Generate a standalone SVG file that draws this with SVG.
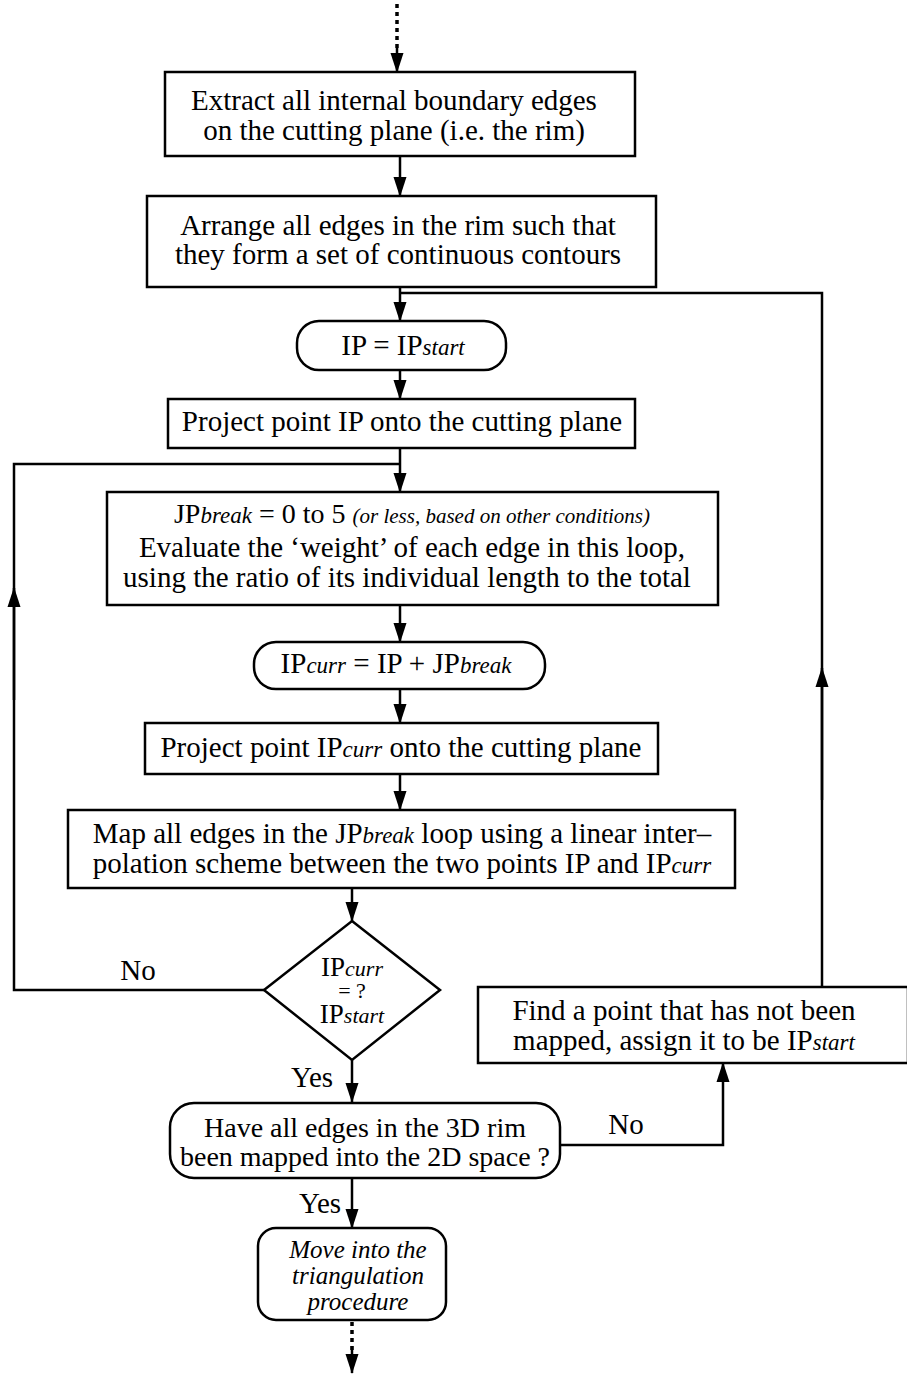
<svg xmlns="http://www.w3.org/2000/svg" width="907" height="1374" viewBox="0 0 907 1374">
<style>
.b{fill:#fff;stroke:#000;stroke-width:2.5}
.t{font-family:"Liberation Serif",serif;font-size:29px;fill:#000;text-anchor:middle}
.i{font-style:italic}
.s{font-size:23px}
.c{fill:none;stroke:#000;stroke-width:2.5}
.d{fill:none;stroke:#000;stroke-width:3.5;stroke-dasharray:4 4}
</style>
<defs>
<marker id="a" markerWidth="20" markerHeight="14" refX="19" refY="7" orient="auto" markerUnits="userSpaceOnUse" viewBox="0 0 20 14"><path d="M0,0.5 L20,7 L0,13.5 Z" fill="#000"/></marker>
</defs>
<g id="connectors">
<path class="d" d="M397,4 V50"/>
<path class="c" d="M397,48 V72" marker-end="url(#a)"/>
<path class="c" d="M400,156 V196" marker-end="url(#a)"/>
<path class="c" d="M400,287 V321" marker-end="url(#a)"/>
<path class="c" d="M400,370 V399" marker-end="url(#a)"/>
<path class="c" d="M400,448 V492" marker-end="url(#a)"/>
<path class="c" d="M400,605 V642" marker-end="url(#a)"/>
<path class="c" d="M400,689 V723" marker-end="url(#a)"/>
<path class="c" d="M400,774 V810" marker-end="url(#a)"/>
<path class="c" d="M352,888 V921" marker-end="url(#a)"/>
<path class="c" d="M264,990 H14 V464 H400"/>
<path class="c" d="M14,700 V588" marker-end="url(#a)"/>
<path class="c" d="M352,1060 V1102" marker-end="url(#a)"/>
<path class="c" d="M560,1145 H723 V1063" marker-end="url(#a)"/>
<path class="c" d="M822,987 V293 H400"/>
<path class="c" d="M822,800 V668" marker-end="url(#a)"/>
<path class="c" d="M352,1178 V1228" marker-end="url(#a)"/>
<path class="d" d="M352,1322 V1350"/>
<path class="c" d="M352,1346 V1373" marker-end="url(#a)"/>
<text class="t" x="138" y="980">No</text>
<text class="t" x="312" y="1087">Yes</text>
<text class="t" x="626" y="1134">No</text>
<text class="t" x="320" y="1213">Yes</text>
</g>
<g id="n1"><rect class="b" x="165" y="72" width="470" height="84"/>
<text class="t" x="394" y="110">Extract all internal boundary edges</text>
<text class="t" x="394" y="140">on the cutting plane  (i.e. the rim)</text></g>
<g id="n2"><rect class="b" x="147" y="196" width="509" height="91"/>
<text class="t" x="398" y="235">Arrange all edges in the rim such that</text>
<text class="t" x="398" y="264">they form a set of continuous contours</text></g>
<g id="n3"><rect class="b" x="297" y="321" width="209" height="49" rx="22"/>
<text class="t" x="403" y="355">IP = IP<tspan class="i s">start</tspan></text></g>
<g id="n4"><rect class="b" x="168" y="399" width="467" height="49"/>
<text class="t" x="402" y="431">Project point IP onto the cutting plane</text></g>
<g id="n5"><rect class="b" x="107" y="492" width="611" height="113"/>
<text class="t" x="412" y="523" style="font-size:28px">JP<tspan class="i s">break</tspan> = 0 to 5  <tspan class="i" style="font-size:21px">(or less, based on other conditions)</tspan></text>
<text class="t" x="412" y="557">Evaluate the ‘weight’ of each edge in this loop,</text>
<text class="t" x="407" y="587">using the ratio of its individual length to the total</text></g>
<g id="n6"><rect class="b" x="254" y="642" width="291" height="47" rx="22"/>
<text class="t" x="396" y="673">IP<tspan class="i s">curr</tspan> = IP + JP<tspan class="i s">break</tspan></text></g>
<g id="n7"><rect class="b" x="145" y="723" width="513" height="51"/>
<text class="t" x="401" y="757">Project point IP<tspan class="i s">curr</tspan> onto the cutting plane</text></g>
<g id="n8"><rect class="b" x="68" y="810" width="667" height="78"/>
<text class="t" x="402" y="843">Map all edges in the JP<tspan class="i s">break</tspan> loop using a linear inter–</text>
<text class="t" x="402" y="873">polation scheme between the two points IP and IP<tspan class="i s">curr</tspan></text></g>
<g id="n9"><polygon class="b" points="352,921 440,990 352,1060 264,990"/>
<text class="t" x="352" y="976" style="font-size:27px">IP<tspan class="i" style="font-size:22px">curr</tspan></text>
<text class="t" x="352" y="998" style="font-size:22px">= ?</text>
<text class="t" x="352" y="1023" style="font-size:27px">IP<tspan class="i" style="font-size:22px">start</tspan></text></g>
<g id="n10"><rect class="b" x="170" y="1103" width="390" height="75" rx="24"/>
<text class="t" x="365" y="1137" style="font-size:28px">Have all edges in the 3D rim</text>
<text class="t" x="365" y="1166" style="font-size:28px">been mapped into the 2D space ?</text></g>
<g id="n11"><rect class="b" x="478" y="987" width="430" height="76"/>
<text class="t" x="684" y="1020">Find a point that has not been</text>
<text class="t" x="684" y="1050">mapped, assign it to be IP<tspan class="i s">start</tspan></text></g>
<g id="n12"><rect class="b" x="258" y="1228" width="188" height="92" rx="18"/>
<text class="t i" x="358" y="1258" style="font-size:25px">Move into the</text>
<text class="t i" x="358" y="1284" style="font-size:25px">triangulation</text>
<text class="t i" x="358" y="1310" style="font-size:25px">procedure</text></g>
</svg>
